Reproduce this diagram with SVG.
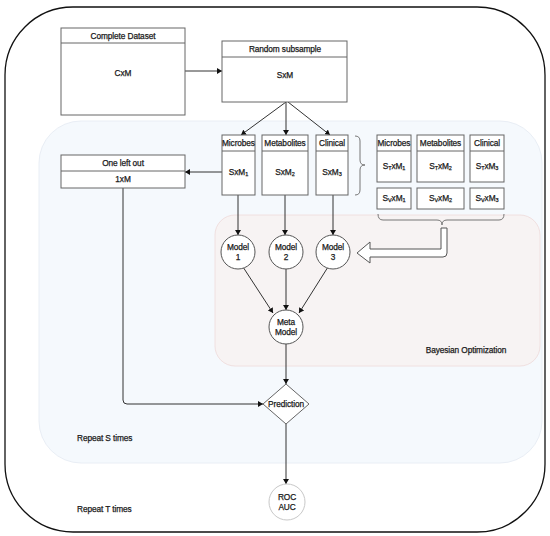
<svg xmlns="http://www.w3.org/2000/svg" width="550" height="536" viewBox="0 0 550 536">
<defs>
<marker id="ah" markerWidth="6" markerHeight="6" refX="5" refY="3" orient="auto" markerUnits="userSpaceOnUse">
<path d="M0,0 L5,3 L0,6 Z" fill="#111"/>
</marker>
<style>
text{font-family:"Liberation Sans",Arial,sans-serif;font-size:8.3px;fill:#1a1a1a;stroke:#1a1a1a;stroke-width:0.25px;text-anchor:middle;dominant-baseline:central;letter-spacing:-0.1px}
.box{fill:#fff;stroke:#666;stroke-width:1}
.div{stroke:#666;stroke-width:1}
.c{fill:#fff;stroke:#555;stroke-width:1}
.con{fill:none;stroke:#333;stroke-width:1}
.sub{font-size:5.5px}
.lab{text-anchor:start}
</style>
</defs>
<rect x="0" y="0" width="550" height="536" fill="#fff"/>
<g id="outer-loop">
<rect x="5" y="7" width="540" height="525" rx="68" ry="68" fill="#fff" stroke="#111" stroke-width="1.3"/>
<text class="lab" x="77" y="509">Repeat  T times</text>
</g>
<g id="inner-loop">
<rect x="39" y="121" width="503" height="342" rx="42" ry="42" fill="#f5f9fd" stroke="#e9eef5" stroke-width="1"/>
<text class="lab" x="77" y="438">Repeat  S times</text>
</g>
<g id="bayesian">
<rect x="215" y="215" width="325" height="151" rx="20" ry="20" fill="#f7f3f3" stroke="#f0e0e0" stroke-width="1"/>
<text x="466" y="350">Bayesian Optimization</text>
</g>
<g id="connectors">
<line class="con" x1="185" y1="71" x2="222" y2="71" marker-end="url(#ah)"/>
<line class="con" x1="286" y1="102" x2="241" y2="135" marker-end="url(#ah)"/>
<line class="con" x1="286" y1="102" x2="286" y2="135" marker-end="url(#ah)"/>
<line class="con" x1="288" y1="102" x2="330" y2="135" marker-end="url(#ah)"/>
<line class="con" x1="222" y1="172" x2="185" y2="172" marker-end="url(#ah)"/>
<line class="con" x1="238" y1="195" x2="238" y2="235" marker-end="url(#ah)"/>
<line class="con" x1="285" y1="195" x2="285" y2="235" marker-end="url(#ah)"/>
<line class="con" x1="333" y1="195" x2="333" y2="235" marker-end="url(#ah)"/>
<line class="con" x1="243" y1="267" x2="273" y2="313" marker-end="url(#ah)"/>
<line class="con" x1="286" y1="269" x2="286" y2="310" marker-end="url(#ah)"/>
<line class="con" x1="328" y1="267" x2="299" y2="313" marker-end="url(#ah)"/>
<line class="con" x1="286" y1="344" x2="286" y2="384" marker-end="url(#ah)"/>
<path class="con" d="M123,188 L123,400 Q123,404 127,404 L263,404" marker-end="url(#ah)"/>
<line class="con" x1="286" y1="424" x2="286" y2="484" marker-end="url(#ah)"/>
<path d="M355,136 Q360,136 360,141 L360,160 Q360,165 365,165 Q360,165 360,170 L360,190 Q360,195 355,195" fill="none" stroke="#777" stroke-width="1"/>
<path d="M378,214 Q378,220 383,220 L437,220 Q442,220 442,225 Q442,220 447,220 L499,220 Q504,220 504,214" fill="none" stroke="#777" stroke-width="1"/>
<path d="M441,228 L441,249 L370,249 L370,242 L357,253 L370,263 L370,257 L443,257 Q447,257 447,253 L447,228 Z" fill="#fff" stroke="#555" stroke-width="1"/>
</g>
<g id="complete-dataset">
<rect class="box" x="61" y="28" width="124" height="87"/>
<line class="div" x1="61" y1="43" x2="185" y2="43"/>
<text x="123" y="36">Complete Dataset</text>
<text x="123" y="73">CxM</text>
</g>
<g id="random-subsample">
<rect class="box" x="222" y="41" width="125" height="61"/>
<line class="div" x1="222" y1="57" x2="347" y2="57"/>
<text x="285" y="49">Random subsample</text>
<text x="285" y="75">SxM</text>
</g>
<g id="one-left-out">
<rect class="box" x="61" y="155" width="124" height="33"/>
<line class="div" x1="61" y1="171" x2="185" y2="171"/>
<text x="123" y="163">One left out</text>
<text x="123" y="179">1xM</text>
</g>
<g id="microbes">
<rect class="box" x="222" y="135" width="33" height="60"/>
<line class="div" x1="222" y1="151" x2="255" y2="151"/>
<text x="238.5" y="143">Microbes</text>
<text x="238.5" y="172">SxM<tspan class="sub" dy="2">1</tspan></text>
</g>
<g id="metabolites">
<rect class="box" x="262" y="135" width="46" height="60"/>
<line class="div" x1="262" y1="151" x2="308" y2="151"/>
<text x="285" y="143">Metabolites</text>
<text x="285" y="172">SxM<tspan class="sub" dy="2">2</tspan></text>
</g>
<g id="clinical">
<rect class="box" x="316" y="135" width="32" height="60"/>
<line class="div" x1="316" y1="151" x2="348" y2="151"/>
<text x="332" y="143">Clinical</text>
<text x="332" y="172">SxM<tspan class="sub" dy="2">3</tspan></text>
</g>
<g id="train-microbes">
<rect class="box" x="377" y="135" width="34" height="47"/>
<line class="div" x1="377" y1="151" x2="411" y2="151"/>
<text x="394" y="143">Microbes</text>
<text x="394" y="166">S<tspan class="sub" dy="2">T</tspan><tspan dy="-2">xM</tspan><tspan class="sub" dy="2">1</tspan></text>
</g>
<g id="train-metabolites">
<rect class="box" x="417" y="135" width="47" height="47"/>
<line class="div" x1="417" y1="151" x2="464" y2="151"/>
<text x="440.5" y="143">Metabolites</text>
<text x="440.5" y="166">S<tspan class="sub" dy="2">T</tspan><tspan dy="-2">xM</tspan><tspan class="sub" dy="2">2</tspan></text>
</g>
<g id="train-clinical">
<rect class="box" x="470" y="135" width="34" height="47"/>
<line class="div" x1="470" y1="151" x2="504" y2="151"/>
<text x="487" y="143">Clinical</text>
<text x="487" y="166">S<tspan class="sub" dy="2">T</tspan><tspan dy="-2">xM</tspan><tspan class="sub" dy="2">3</tspan></text>
</g>
<g id="val-microbes">
<rect class="box" x="377" y="188" width="34" height="21"/>
<text x="394" y="198">S<tspan class="sub" dy="2">V</tspan><tspan dy="-2">xM</tspan><tspan class="sub" dy="2">1</tspan></text>
</g>
<g id="val-metabolites">
<rect class="box" x="417" y="188" width="47" height="21"/>
<text x="440.5" y="198">S<tspan class="sub" dy="2">V</tspan><tspan dy="-2">xM</tspan><tspan class="sub" dy="2">2</tspan></text>
</g>
<g id="val-clinical">
<rect class="box" x="470" y="188" width="34" height="21"/>
<text x="487" y="198">S<tspan class="sub" dy="2">V</tspan><tspan dy="-2">xM</tspan><tspan class="sub" dy="2">3</tspan></text>
</g>
<g id="model-1">
<circle class="c" cx="238" cy="252" r="17"/>
<text x="238" y="247">Model</text>
<text x="238" y="257">1</text>
</g>
<g id="model-2">
<circle class="c" cx="286" cy="252" r="17"/>
<text x="286" y="247">Model</text>
<text x="286" y="257">2</text>
</g>
<g id="model-3">
<circle class="c" cx="333" cy="252" r="17"/>
<text x="333" y="247">Model</text>
<text x="333" y="257">3</text>
</g>
<g id="meta-model">
<circle class="c" cx="286" cy="327" r="17"/>
<text x="286" y="322">Meta</text>
<text x="286" y="332">Model</text>
</g>
<g id="prediction">
<polygon points="286,384 309,404 286,424 263,404" fill="#fff" stroke="#666" stroke-width="1"/>
<text x="286" y="404">Prediction</text>
</g>
<g id="roc-auc">
<circle cx="287" cy="502" r="18" fill="#fff" stroke="#c8c8c8" stroke-width="1"/>
<text x="287" y="497">ROC</text>
<text x="287" y="507">AUC</text>
</g>
</svg>
